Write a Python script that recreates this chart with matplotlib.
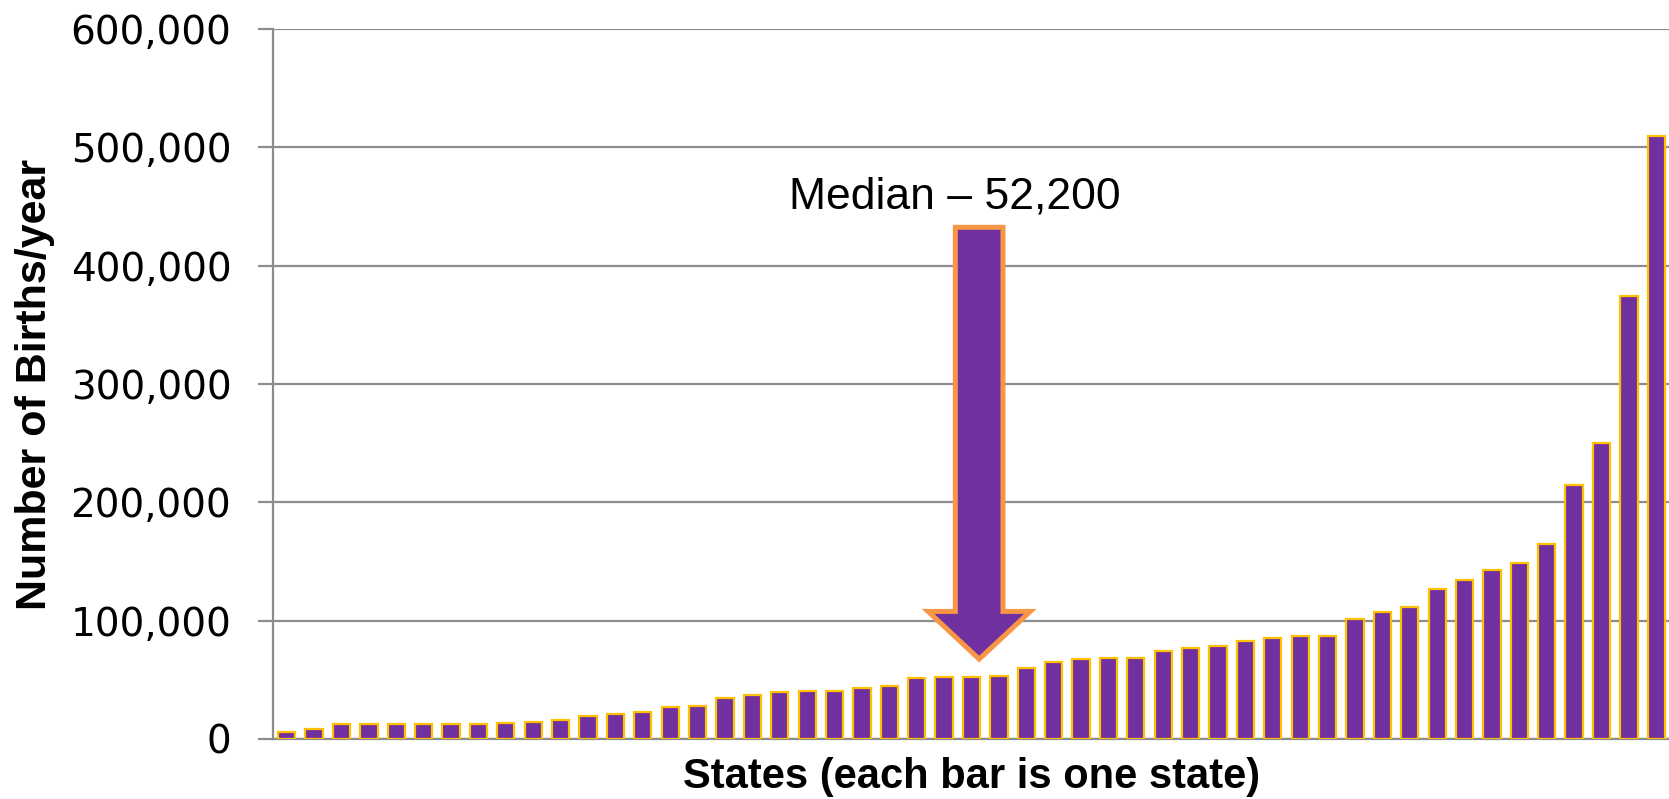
import matplotlib
matplotlib.use("Agg")
import matplotlib.pyplot as plt
from matplotlib.patches import FancyArrow
from matplotlib.ticker import FuncFormatter

# births per year, one bar per state, sorted from smallest to largest
births = [6200, 8500, 12400, 12400, 12400, 12400, 12400, 12700, 13800, 14400,
          15800, 19700, 21100, 22800, 27000, 28200, 34900, 37200, 39700, 40600,
          40800, 42800, 45100, 51300, 52200, 52200, 53000, 60300, 65400, 67600,
          68200, 68700, 74400, 77000, 78900, 82600, 85700, 87400, 87400, 101200,
          107600, 111300, 127100, 134700, 143100, 149100, 165100, 215000, 250200,
          374200, 509700]
states = list(range(len(births)))
yticks = [0, 100000, 200000, 300000, 400000, 500000, 600000]
median_label = "Median \u2013 52,200"

purple = "#7030A0"
gold = "#FFC000"
orange = "#F79646"
gray = "#8C8C8C"

fig = plt.figure(figsize=(16.69, 7.99), dpi=100)
ax = fig.add_axes([273 / 1669, 60 / 799, 1397 / 1669, 710 / 799])

ax.bar(states, births, width=0.63, color=purple, edgecolor=gold, linewidth=1.6, zorder=3)

ax.set_xlim(-0.5, len(births) - 0.5)
ax.set_ylim(0, 600000)
ax.set_yticks(yticks)
ax.yaxis.set_major_formatter(FuncFormatter(lambda v, p: f"{int(v):,}"))
ax.set_xticks([])
ax.grid(axis="y", color=gray, linewidth=1.6, zorder=0)
for side in ["top", "right"]:
    ax.spines[side].set_visible(False)
for side in ["left", "bottom"]:
    ax.spines[side].set_color(gray)
    ax.spines[side].set_linewidth(1.6)
ax.tick_params(axis="y", length=11, width=1.6, color=gray, pad=19, labelsize=28)

ax.set_ylabel("Number of Births/year", fontsize=31, fontweight="bold",
              family="Liberation Sans")
ax.yaxis.set_label_coords(-0.156, 0.5)
ax.set_xlabel("States (each bar is one state)", fontsize=30, fontweight="bold",
              family="Liberation Sans")
ax.xaxis.set_label_coords(0.5, -0.025)

# arrow pointing at the median state
arrow = FancyArrow(25.28, 432400, 0, -364900, width=1.74, head_width=3.73,
                   head_length=40300, length_includes_head=True,
                   fc=purple, ec=orange, lw=3.6, zorder=5)
ax.add_patch(arrow)
ax.text(24.4, 458000, median_label, fontsize=32, family="Liberation Sans",
        ha="center", va="center", zorder=6)

fig.savefig("out.png", dpi=100)
